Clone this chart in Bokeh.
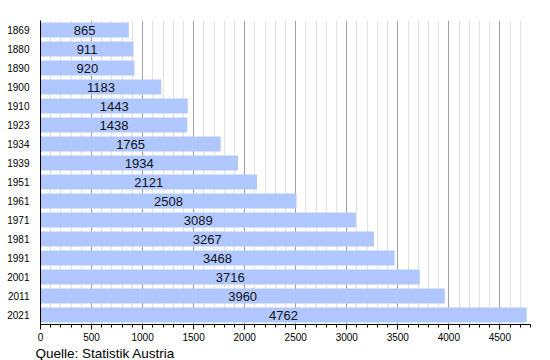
from bokeh.plotting import figure
from bokeh.models import ColumnDataSource, FactorRange, Range1d, SingleIntervalTicker, Title
from bokeh.core.properties import value
from bokeh.embed import file_html
from bokeh.resources import INLINE

years = ["1869", "1880", "1890", "1900", "1910", "1923", "1934", "1939",
         "1951", "1961", "1971", "1981", "1991", "2001", "2011", "2021"]
population = [865, 911, 920, 1183, 1443, 1438, 1765, 1934,
              2121, 2508, 3089, 3267, 3468, 3716, 3960, 4762]
source_text = "Quelle: Statistik Austria"

src = ColumnDataSource(dict(
    year=years,
    pop=population,
    mid=[v / 2 for v in population],
    lbl=[str(v) for v in population],
))

p = figure(width=550, height=360, output_backend="svg", toolbar_location=None,
           y_range=FactorRange(*reversed(years), range_padding=0),
           x_range=Range1d(0, 4800),
           min_border_left=40, min_border_right=20, min_border_top=20, min_border_bottom=0)
p.outline_line_color = None

p.hbar(y="year", right="pop", left=0, height=0.8, source=src,
       fill_color="#b0c8ff", line_color=None)
p.text(x="mid", y="year", text="lbl", source=src, text_align="center",
       text_baseline="middle", text_font=value("Liberation Sans"),
       text_font_size="13px", text_color="#101020")

ticker = SingleIntervalTicker(interval=500, num_minor_ticks=5)
p.xaxis.ticker = ticker
p.xgrid.ticker = ticker
p.xgrid.grid_line_color = "#a0a0a0"
p.xgrid.minor_grid_line_color = "#e2e2e2"
p.ygrid.grid_line_color = None

p.xaxis.axis_line_color = "black"
p.xaxis.major_tick_line_color = "black"
p.xaxis.minor_tick_line_color = "black"
p.xaxis.major_tick_out = 5
p.xaxis.major_tick_in = 0
p.xaxis.minor_tick_out = 3
p.xaxis.minor_tick_in = 0
p.xaxis.major_label_text_font = "Liberation Sans"
p.xaxis.major_label_text_font_size = "10px"
p.xaxis.major_label_text_color = "black"
p.xaxis.major_label_standoff = 3

p.yaxis.axis_line_color = "black"
p.yaxis.major_tick_line_color = None
p.yaxis.minor_tick_line_color = None
p.yaxis.major_label_text_font = "Liberation Sans"
p.yaxis.major_label_text_font_size = "10px"
p.yaxis.major_label_text_color = "black"
p.yaxis.major_label_standoff = 5

p.add_layout(Title(text=source_text, align="left", offset=-5, standoff=0,
                   text_font="Liberation Sans", text_font_size="13.5px",
                   text_font_style="normal", text_color="black"), "below")

open("out.html", "w").write(file_html(p, INLINE))
